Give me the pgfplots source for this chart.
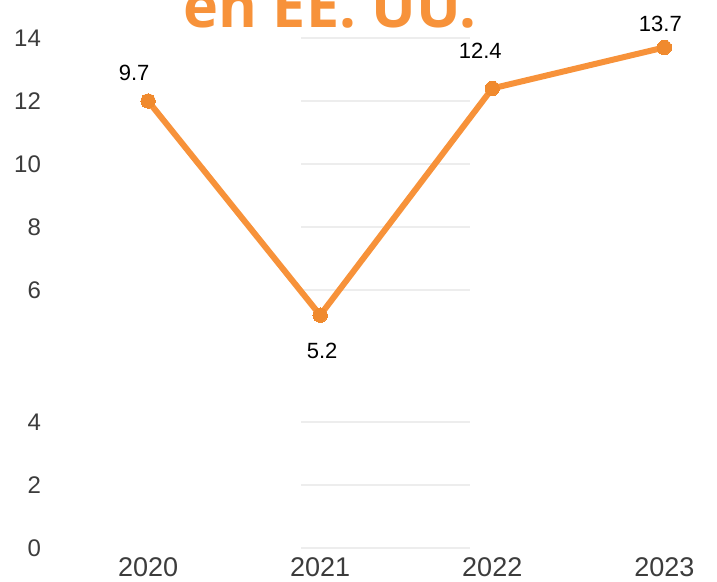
\documentclass[border=0pt]{standalone}
\usepackage{fontspec}
\setmainfont{Liberation Sans}
\newfontfamily\titlefont{Open Sans}
\usepackage{pgfplots}
\pgfplotsset{compat=1.18}
\definecolor{orangeline}{HTML}{F7923A}
\definecolor{orangemark}{HTML}{F08A2E}
\definecolor{titleorange}{HTML}{F7923A}
\definecolor{ticklab}{HTML}{3C3C3C}
\definecolor{gridc}{HTML}{EDEDED}
\begin{document}
\begin{tikzpicture}
\begin{axis}[
  name=ax,
  scale only axis,
  width=326.8pt, height=255pt,
  xmin=-0.5, xmax=3.3,
  ymin=0, ymax=14,
  y coord trafo/.code={\pgfmathparse{#1>=5 ? #1+2.2 : #1}},
  y coord inv trafo/.code={\pgfmathparse{#1>=7.2 ? #1-2.2 : #1}},
  axis line style={draw=none},
  major tick length=0pt,
  clip=false,
  xtick={0,1,2,3}, xticklabels={2020,2021,2022,2023},
  ytick={0,2,4,6,8,10,12,14},
  yticklabels={0,2,4,6,8,10,12,14},
  /pgf/number format/assume math mode=true,
  xticklabel style={font=\fontsize{13.5}{15}\selectfont, text=ticklab, yshift=-1pt},
  yticklabel style={font=\fontsize{12}{14}\selectfont, text=ticklab, xshift=-7pt},
]
\pgfplotsinvokeforeach{0,2,4,6,8,10,12,14}{
  \draw[gridc, line width=1pt] (axis cs:0.89,#1) -- (axis cs:1.87,#1);
}
\addplot[orangeline, line width=3pt, line join=round,
  mark=*, mark size=3.6pt, mark options={fill=orangemark, draw=orangemark, line width=0pt}]
  coordinates {(0,12.0) (1,5.2) (2,12.4) (3,13.7)};
\node[font=\fontsize{11}{13}\selectfont] at ([xshift=-7pt,yshift=14pt]axis cs:0,12.0) {9.7};
\node[font=\fontsize{11}{13}\selectfont] at ([xshift=1pt,yshift=-18pt]axis cs:1,5.2) {5.2};
\node[font=\fontsize{11}{13}\selectfont] at ([xshift=-6pt,yshift=19pt]axis cs:2,12.4) {12.4};
\node[font=\fontsize{11}{13}\selectfont] at ([xshift=-2pt,yshift=12pt]axis cs:3,13.7) {13.7};
\end{axis}
\node[anchor=base, font=\titlefont\bfseries\fontsize{29.6}{30}\selectfont, text=titleorange]
  at ([xshift=134pt,yshift=5.5pt]ax.north west) {en EE. UU.};
\pgfresetboundingbox
\path[use as bounding box] ([xshift=-31pt,yshift=-16.5pt]ax.south west) rectangle ([xshift=0.5pt,yshift=19pt]ax.north east);
\end{tikzpicture}
\end{document}
